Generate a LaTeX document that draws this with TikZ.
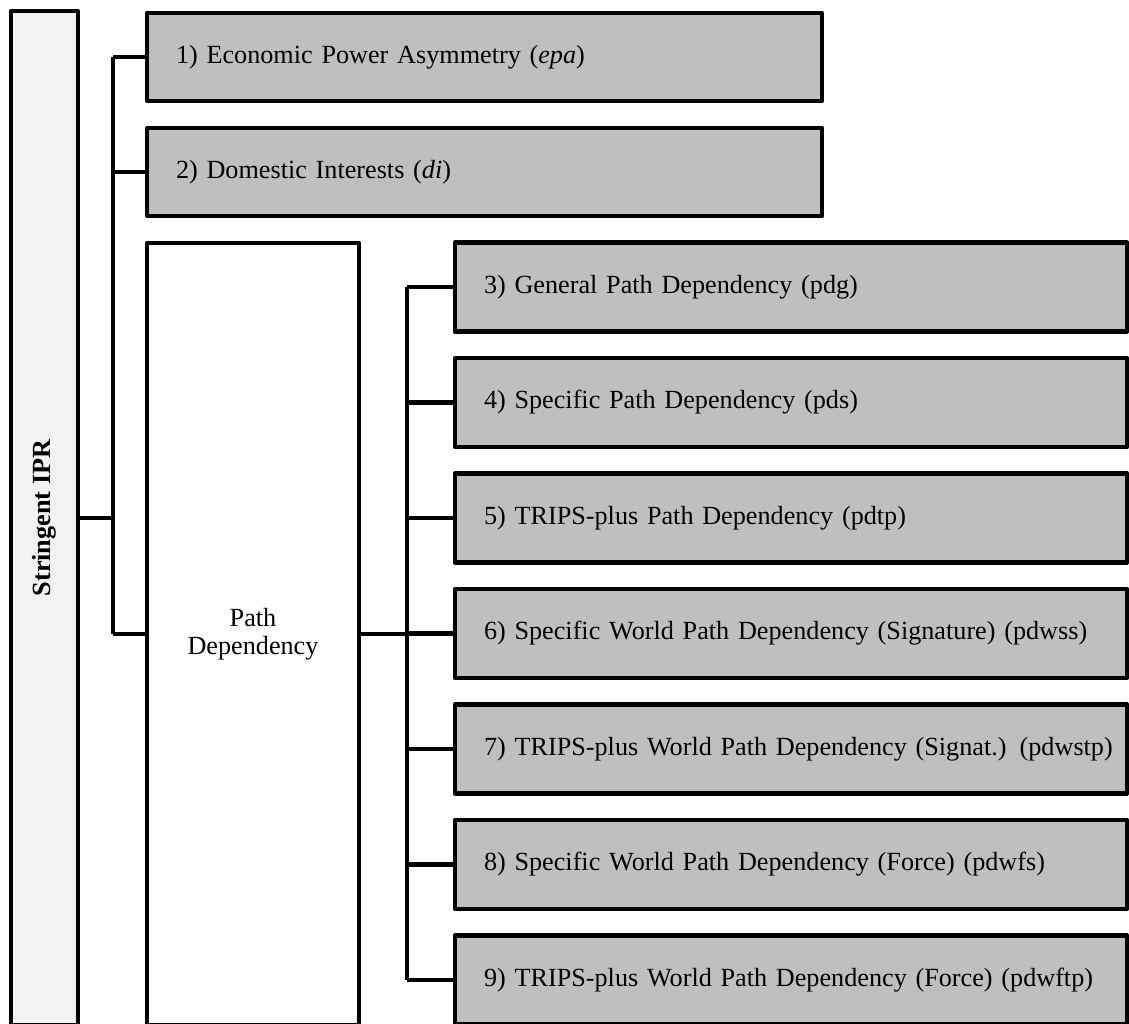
\documentclass[tikz,border=0pt]{standalone}
\usepackage{fontspec}
\setmainfont{Liberation Serif}
\definecolor{boxgray}{RGB}{191,191,191}
\definecolor{iprgray}{RGB}{242,242,242}

\begin{document}
\begin{tikzpicture}[x=1pt,y=-1pt,line width=4.8pt,line join=round,
  every node/.style={draw, rectangle, line width=4.8pt, inner ysep=0pt, font=\fontsize{26.2}{28}\selectfont},
  leftbox/.style={fill=boxgray, minimum height=88pt, inner xsep=29pt, text width=617pt, align=left},
  rightbox/.style={fill=boxgray, minimum height=89pt, inner xsep=29pt, text width=614pt, align=left}]
  \useasboundingbox (0,0) rectangle (1129,1023);
  \clip (0,0) rectangle (1129,1023);
  \path (44.5,518) node[fill=iprgray, minimum width=67pt, minimum height=1014pt,
      label={[draw=none, rotate=90, font=\bfseries\fontsize{26.2}{28}\selectfont]center:Stringent IPR}] (ipr){}
    (484.5,57) node[leftbox] (epa){\mbox{1) Economic Power Asymmetry (\textit{epa})}}
    (484.5,172) node[leftbox] (di){\mbox{2) Domestic Interests (\textit{di})}}
    (253,634) node[fill=white, minimum width=212pt, minimum height=782pt, align=center] (pd){Path\\Dependency};
  \path (791,287) node[rightbox] (pdg){\mbox{3) General Path Dependency (pdg)}}
    (791,402.5) node[rightbox] (pds){\mbox{4) Specific Path Dependency (pds)}}
    (791,518) node[rightbox] (pdtp){\mbox{5) TRIPS-plus Path Dependency (pdtp)}}
    (791,633.5) node[rightbox] (pdwss){\mbox{6) Specific World Path Dependency (Signature) (pdwss)}}
    (791,749) node[rightbox] (pdwstp){\mbox{7) TRIPS-plus World Path Dependency (Signat.) (pdwstp)}}
    (791,864.5) node[rightbox] (pdwfs){\mbox{8) Specific World Path Dependency (Force) (pdwfs)}}
    (791,980) node[rightbox] (pdwftp){\mbox{9) TRIPS-plus World Path Dependency (Force) (pdwftp)}};
  \coordinate (t) at (113,0);
  \coordinate (b) at (407,0);
  \draw (ipr.east) -- (ipr.east -| t);
  \draw (epa.west -| t) -- (pd.west -| t);
  \draw (epa.west -| t) -- (epa.west) (di.west -| t) -- (di.west) (pd.west -| t) -- (pd.west);
  \draw (pd.east) -- (pd.east -| b);
  \draw (pdg.west -| b) -- (pdwftp.west -| b);
  \draw (pdg.west -| b) -- (pdg.west) (pds.west -| b) -- (pds.west)
    (pdtp.west -| b) -- (pdtp.west) (pdwss.west -| b) -- (pdwss.west);
  \draw (pdwstp.west -| b) -- (pdwstp.west) (pdwfs.west -| b) -- (pdwfs.west)
    (pdwftp.west -| b) -- (pdwftp.west);
\end{tikzpicture}
\end{document}
